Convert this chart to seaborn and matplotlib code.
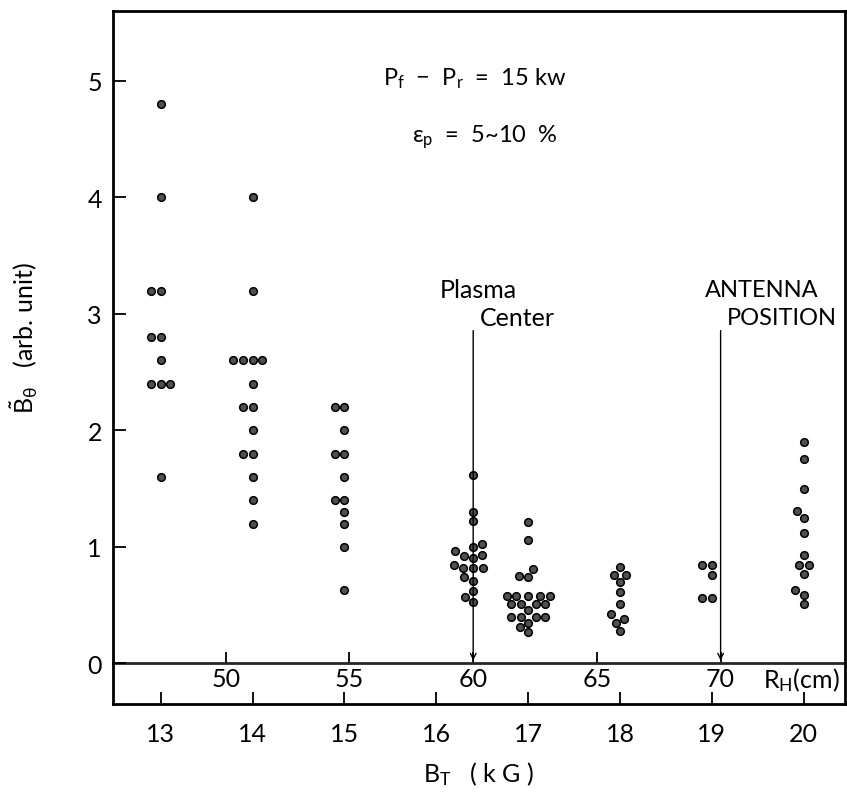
import numpy as np
import pandas as pd
import seaborn as sns
import matplotlib.pyplot as plt

# B_theta amplitude (arb. unit) measured at each toroidal field B_T (kG)
b13 = [4.8, 4.0, 3.2, 3.2, 2.8, 2.8, 2.6, 2.4, 2.4, 2.4, 1.6]
b14 = [4.0, 3.2, 2.6, 2.6, 2.6, 2.6, 2.4, 2.2, 2.2, 2.0, 1.8, 1.8, 1.6, 1.4, 1.2]
b15 = [2.2, 2.2, 2.0, 1.8, 1.8, 1.6, 1.4, 1.4, 1.3, 1.2, 1.0, 0.63]
b16 = [1.62, 1.30, 1.22, 1.02, 1.00, 0.96, 0.93, 0.92, 0.90, 0.84, 0.82, 0.82,
       0.82, 0.74, 0.71, 0.62, 0.57, 0.53]
b17 = [1.21, 1.06, 0.81, 0.75, 0.74, 0.58, 0.58, 0.58, 0.58, 0.58, 0.51, 0.51,
       0.51, 0.51, 0.46, 0.40, 0.40, 0.40, 0.40, 0.35, 0.31, 0.27]
b18 = [0.83, 0.76, 0.76, 0.70, 0.61, 0.51, 0.42, 0.38, 0.35, 0.28]
b19 = [0.84, 0.84, 0.76, 0.56, 0.56]
b20 = [1.90, 1.75, 1.50, 1.31, 1.25, 1.12, 0.93, 0.84, 0.84, 0.77, 0.63, 0.59, 0.51]

bt_values = [13, 14, 15, 16.4, 17, 18, 19, 20]
series = [b13, b14, b15, b16, b17, b18, b19, b20]

bt_ticks = [13, 14, 15, 16, 17, 18, 19, 20]
rh_ticks = [50, 55, 60, 65, 70]

df = pd.DataFrame({
    'bt': np.concatenate([[bt] * len(s) for bt, s in zip(bt_values, series)]),
    'b': np.concatenate(series),
})

# hybrid resonance position R_H (cm) <-> B_T (kG)
def bt_to_rh(b):
    return 50 + (np.asarray(b) - 13.708) / 0.2694

def rh_to_bt(r):
    return 13.708 + (np.asarray(r) - 50) * 0.2694

sns.set_style('ticks')
plt.rcParams['font.family'] = ['Lato', 'DejaVu Sans']
plt.rcParams['mathtext.default'] = 'regular'
plt.rcParams['text.color'] = 'black'
plt.rcParams['axes.labelcolor'] = 'black'

fig = plt.figure(figsize=(8.47, 8.03), dpi=100)
ax = fig.add_axes([0.1334, 0.1220, 0.8642, 0.8630])

sns.swarmplot(data=df, x='bt', y='b', native_scale=True, orient='v', ax=ax,
              size=5.5, color='#505050', edgecolor='black', linewidth=1.1)

ax.set_xlim(12.48, 20.45)
ax.set_ylim(-0.35, 5.60)

for s in ax.spines.values():
    s.set_linewidth(2)
    s.set_color('black')

ax.set_yticks([0, 1, 2, 3, 4, 5])
ax.set_xticks(bt_ticks)
ax.tick_params(axis='both', direction='in', labelsize=18, width=1.3,
               length=9, pad=8, colors='black')
ax.tick_params(axis='x', pad=13)

# R_H scale drawn along the B = 0 line
y0 = 0.35 / (5.60 + 0.35)
sec = ax.secondary_xaxis(y0, functions=(bt_to_rh, rh_to_bt))
sec.set_xticks(rh_ticks)
sec.spines['bottom'].set_linewidth(2)
sec.tick_params(direction='in', labelsize=18, width=1.3, length=8, pad=3,
                colors='black')
ax.text(rh_to_bt(71.7), -0.14, r'R$_H$(cm)', fontsize=18, va='center')

ax.set_xlabel(r'B$_T$   ( k G )', fontsize=18, labelpad=10)
ax.set_ylabel(r'$\tilde{B}_\theta$   (arb. unit)', fontsize=18)
ax.yaxis.set_label_coords(-0.10, 0.53)

ax.text(15.42, 5.03, r'P$_f$  $-$  P$_r$  =  15 kw', fontsize=17, va='center')
ax.text(15.74, 4.53, r'$\epsilon_p$  =  5~10  %', fontsize=17, va='center')

ax.text(16.04, 3.21, 'Plasma', fontsize=18, va='center')
ax.text(16.47, 2.97, 'Center', fontsize=18, va='center')
ax.annotate('', xy=(rh_to_bt(60), 0), xytext=(rh_to_bt(60), 2.88),
            arrowprops=dict(arrowstyle='->', lw=1, color='black'))

ax.text(18.92, 3.21, 'ANTENNA', fontsize=17, va='center')
ax.text(19.16, 2.97, 'POSITION', fontsize=17, va='center', clip_on=False)
ax.annotate('', xy=(rh_to_bt(70), 0), xytext=(rh_to_bt(70), 2.88),
            arrowprops=dict(arrowstyle='->', lw=1, color='black'))

fig.savefig('out.png', dpi=100)
